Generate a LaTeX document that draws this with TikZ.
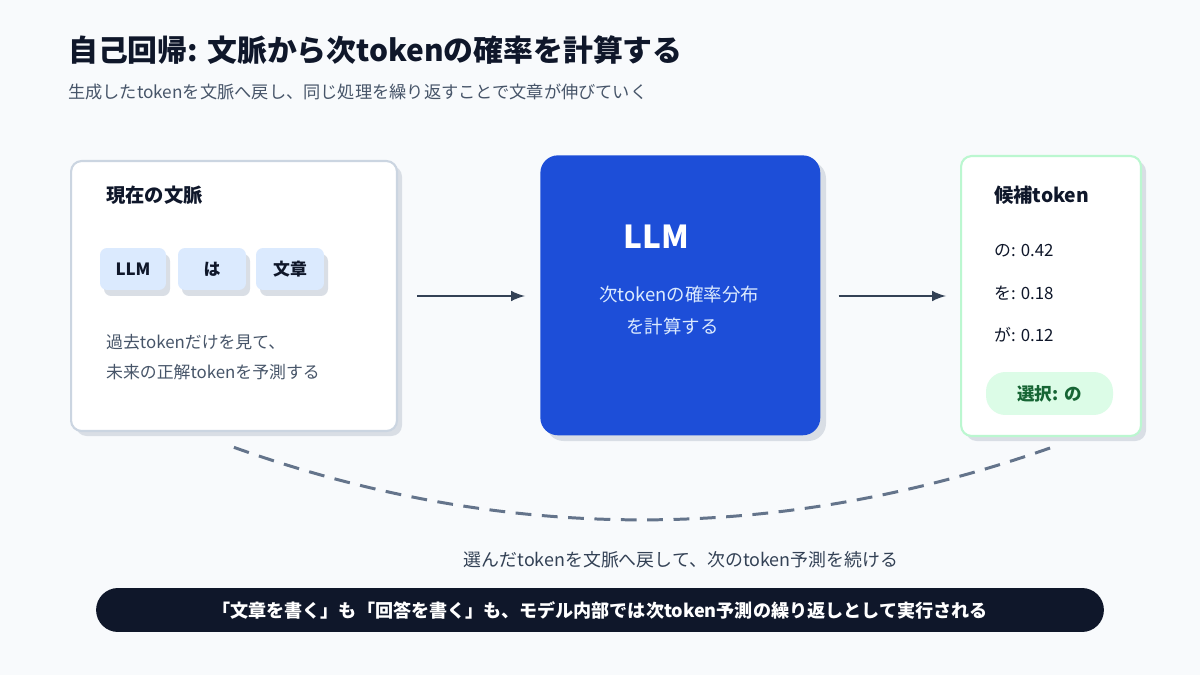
\documentclass[tikz,border=0pt]{standalone}
\usepackage{fontspec}
\setmainfont{Noto Sans CJK JP}
\begin{document}
\begin{tikzpicture}[x=0.02cm,y=-0.02cm,
  dark/.style={text=c0F},
  card/.style={draw=#1,line width=1.2pt,fill=white,rounded corners=6pt},
  shadow/.style={fill=cSh,rounded corners=6pt,draw=none},
  chip/.style={fill=cChip,rounded corners=4pt,minimum width=1.34cm,minimum height=0.84cm,font=\fontsize{9.6}{11}\selectfont\bfseries,text=c0F},
  chipsh/.style={fill=cSh,rounded corners=4pt},
  body/.style={anchor=base west,font=\fontsize{9.6}{12}\selectfont},
  arr/.style={line width=1.7pt,draw=c33,-{latex}}]
\definecolor{bg}{HTML}{F8FAFC}
\definecolor{c0F}{HTML}{0F172A}
\definecolor{c47}{HTML}{475569}
\definecolor{c33}{HTML}{334155}
\definecolor{cSh}{HTML}{D9DEE5}
\definecolor{cChip}{HTML}{DBEAFE}
\definecolor{cBlue}{HTML}{1D4ED8}
\definecolor{cBord}{HTML}{CBD5E1}
\definecolor{cGB}{HTML}{BBF7D0}
\definecolor{cGF}{HTML}{DCFCE7}
\definecolor{cGT}{HTML}{166534}
\definecolor{c64}{HTML}{64748B}
\fill[bg] (0,0) rectangle (1200,675);
\useasboundingbox (0,0) rectangle (1200,675);
\node[anchor=base west,font=\fontsize{17}{20}\selectfont\bfseries,text=c0F] (title) at (62,62) {自己回帰: 文脈から次tokenの確率を計算する};
\node[anchor=base west,font=\fontsize{9.8}{12}\selectfont,text=c47] (sub) at (62,99) {生成したtokenを文脈へ戻し、同じ処理を繰り返すことで文章が伸びていく};
% left card
\fill[shadow] (76,166) rectangle (402,436);
\node[card=cBord,minimum width=6.52cm,minimum height=5.4cm,anchor=north west] (ctx) at (70,160) {};
\node[body,font=\fontsize{11}{13}\selectfont\bfseries,text=c0F] (ctxt) at (100,203) {現在の文脈};
\fill[chipsh] (104,254) rectangle (170,296);
\fill[chipsh] (182,254) rectangle (250,296);
\fill[chipsh] (260,254) rectangle (328,296);
\node[chip,minimum width=1.32cm] (c1) at (133,269) {LLM};
\node[chip,minimum width=1.36cm] (c2) at (212,269) {は};
\node[chip,minimum width=1.36cm] (c3) at (290,269) {文章};
\node[body,text=c47] (l1) at (100,349) {過去tokenだけを見て、};
\node[body,text=c47] (l2) at (100,378) {未来の正解tokenを予測する};
% LLM
\fill[shadow,rounded corners=10pt] (546,161) rectangle (826,441);
\node[fill=cBlue,rounded corners=10pt,minimum width=5.6cm,minimum height=5.6cm,anchor=north west] (llm) at (540,155) {};
\node[anchor=base west,font=\fontsize{18}{20}\selectfont\bfseries,text=white] (llmt) at (617,249) {LLM};
\node[body,font=\fontsize{10.5}{12}\selectfont,text=cChip] (d1) at (593,302) {次tokenの確率分布};
\node[body,font=\fontsize{10.5}{12}\selectfont,text=cChip] (d2) at (620,334) {を計算する};
% right card
\fill[shadow] (966,161) rectangle (1146,441);
\node[card=cGB,minimum width=3.6cm,minimum height=5.6cm,anchor=north west] (cand) at (960,155) {};
\node[body,font=\fontsize{11}{13}\selectfont\bfseries,text=c0F] (candt) at (988,203) {候補token};
\node[body,text=c0F] (p1) at (988,257) {の: 0.42};
\node[body,text=c0F] (p2) at (988,300) {を: 0.18};
\node[body,text=c0F] (p3) at (988,342) {が: 0.12};
\node[fill=cGF,rounded corners=11pt,minimum width=2.54cm,minimum height=0.86cm,font=\fontsize{10}{12}\selectfont\bfseries,text=cGT] (sel) at (1049.5,393.5) {選択: の};
% arrows
\draw[arr] ([xshift=0.38cm]ctx.east |- 0,296) coordinate (a1) -- ([xshift=-0.3cm]llm.west |- 0,296);
\draw[arr] ([xshift=0.36cm]llm.east |- 0,296) -- ([xshift=-0.28cm]cand.west |- 0,296);
% feedback
\coordinate (fb1) at (233,447);
\coordinate (fb2) at (1050,448);
\draw[c64,line width=1.7pt,dash pattern=on 9pt off 6pt] (fb2) .. controls (777,544) and (504,544) .. (fb1);
\node[font=\fontsize{10.2}{12}\selectfont,text=c33] (fbt) at (681,560) {選んだtokenを文脈へ戻して、次のtoken予測を続ける};
\node[fill=c0F,rounded corners=12.5pt,minimum width=20.16cm,minimum height=0.88cm,font=\fontsize{10.3}{12}\selectfont\bfseries,text=white] (bar) at (600,610) {「文章を書く」も「回答を書く」も、モデル内部では次token予測の繰り返しとして実行される};
\end{tikzpicture}
\end{document}
